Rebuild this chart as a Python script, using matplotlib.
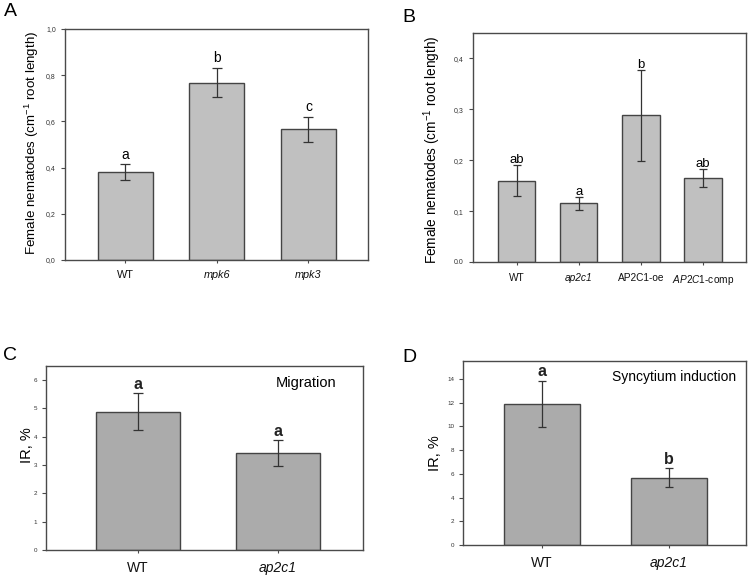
import matplotlib
matplotlib.use('Agg')
from matplotlib import pyplot as plt
import numpy as np

plt.rcParams['font.family'] = ['Liberation Sans', 'DejaVu Sans']
plt.rcParams['mathtext.fontset'] = 'custom'
plt.rcParams['mathtext.rm'] = 'Liberation Sans'
plt.rcParams['mathtext.it'] = 'Liberation Sans:italic'

# panel A
a_groups = ['WT', 'mpk6', 'mpk3']
a_means = [0.38, 0.768, 0.565]
a_err = [0.034, 0.063, 0.056]
a_letters = ['a', 'b', 'c']

# panel B
b_groups = ['WT', 'ap2c1', 'AP2C1-oe', 'AP2C1-comp']
b_means = [0.160, 0.115, 0.288, 0.165]
b_err = [0.030, 0.012, 0.089, 0.018]
b_letters = ['ab', 'a', 'b', 'ab']

# panel C
c_groups = ['WT', 'ap2c1']
c_means = [4.88, 3.42]
c_err = [0.65, 0.46]
c_letters = ['a', 'a']

# panel D
d_groups = ['WT', 'ap2c1']
d_means = [11.85, 5.65]
d_err = [1.95, 0.80]
d_letters = ['a', 'b']

W, H = 750, 577
fig = plt.figure(figsize=(W / 100, H / 100), dpi=100)


def px_axes(left, right, top, bottom):
    return fig.add_axes([left / W, 1 - bottom / H, (right - left) / W, (bottom - top) / H])


def style(ax):
    for s in ax.spines.values():
        s.set_color('#4a4a4a')
        s.set_linewidth(1.0)
    ax.tick_params(axis='y', direction='out', length=3, width=0.8, colors='#4a4a4a',
                   labelcolor='#333333')
    ax.tick_params(axis='x', direction='out', length=2, width=0.8, colors='#4a4a4a',
                   labelcolor='#111111')


def bars(ax, means, err, color, capsize):
    x = np.arange(len(means))
    ax.bar(x, means, width=0.6, color=color, edgecolor='#444444', linewidth=1.0, zorder=2)
    ax.errorbar(x, means, yerr=err, fmt='none', ecolor='#333333', elinewidth=0.9,
                capsize=capsize, capthick=0.9, zorder=3)
    return x


def xlabels(ax, x, labels, size, italic, pad):
    ax.set_xticks(x)
    ax.set_xticklabels(labels, fontsize=size)
    for lab, it in zip(ax.get_xticklabels(), italic):
        if it:
            lab.set_fontstyle('italic')
    ax.tick_params(axis='x', pad=pad)


# ---- A ----
axA = px_axes(65, 368, 29, 260)
x = bars(axA, a_means, a_err, '#c0c0c0', 3.5)
axA.set_xlim(-0.66, 2.65)
axA.set_ylim(0, 1.0)
axA.set_yticks(np.arange(0, 1.01, 0.2))
axA.set_yticklabels([f'{v:.1f}'.replace('.', ',') for v in np.arange(0, 1.01, 0.2)], fontsize=5)
style(axA)
xlabels(axA, x, a_groups, 7.8, [False, True, True], 5)
for i in x:
    axA.text(i, a_means[i] + a_err[i] + 0.012, a_letters[i], ha='center', va='bottom', fontsize=10)
fig.text(32 / W, 1 - 143 / H, 'Female nematodes (cm$^{-1}$ root length)', rotation=90,
         ha='center', va='center', fontsize=9.6)
fig.text(10 / W, 1 - 11 / H, 'A', ha='center', va='center', fontsize=14)

# ---- B ----
axB = px_axes(473, 746, 33, 262)
x = bars(axB, b_means, b_err, '#c0c0c0', 3.0)
axB.set_xlim(-0.7, 3.69)
axB.set_ylim(0, 0.45)
axB.set_yticks([0, 0.1, 0.2, 0.3, 0.4])
axB.set_yticklabels(['0.0', '0,1', '0,2', '0,3', '0,4'], fontsize=5)
style(axB)
xlabels(axB, x, ['WT', 'ap2c1', 'AP2C1-oe', '$\\mathit{AP2C1}$-comp'], 7.3,
        [False, True, False, False], 6)
for i in x:
    axB.text(i, b_means[i] + b_err[i] - 0.002, b_letters[i], ha='center', va='bottom', fontsize=9.5)
fig.text(432 / W, 1 - 150 / H, 'Female nematodes (cm$^{-1}$ root length)', rotation=90,
         ha='center', va='center', fontsize=9.8)
fig.text(409 / W, 1 - 17 / H, 'B', ha='center', va='center', fontsize=14)

# ---- C ----
axC = px_axes(46, 363, 366, 550)
x = bars(axC, c_means, c_err, '#ababab', 3.5)
axC.set_xlim(-0.66, 1.61)
axC.set_ylim(0, 6.5)
axC.set_yticks(range(0, 7))
style(axC)
axC.tick_params(axis='y', labelsize=4.5)
xlabels(axC, x, c_groups, 10, [False, True], 6)
for i in x:
    axC.text(i, c_means[i] + c_err[i] + 0.05, c_letters[i], ha='center', va='bottom',
             fontsize=11.5, fontweight='bold', color='#222222')
axC.text(0.82, 0.905, 'Migration', transform=axC.transAxes, ha='center', va='center', fontsize=10.5)
fig.text(27 / W, 1 - 445 / H, 'IR, %', rotation=90, ha='center', va='center', fontsize=10.5)
fig.text(10 / W, 1 - 355 / H, 'C', ha='center', va='center', fontsize=14)

# ---- D ----
axD = px_axes(463, 746, 361, 545)
x = bars(axD, d_means, d_err, '#ababab', 3.0)
axD.set_xlim(-0.62, 1.61)
axD.set_ylim(0, 15.5)
axD.set_yticks(range(0, 15, 2))
style(axD)
axD.tick_params(axis='y', labelsize=4.5)
xlabels(axD, x, d_groups, 10, [False, True], 6)
for i in x:
    axD.text(i, d_means[i] + d_err[i] + 0.15, d_letters[i], ha='center', va='bottom',
             fontsize=11.5, fontweight='bold', color='#222222')
axD.text(0.745, 0.915, 'Syncytium induction', transform=axD.transAxes, ha='center', va='center',
         fontsize=10)
fig.text(435 / W, 1 - 453 / H, 'IR, %', rotation=90, ha='center', va='center', fontsize=10.5)
fig.text(409 / W, 1 - 357 / H, 'D', ha='center', va='center', fontsize=14)

fig.savefig('out.png', dpi=100)
